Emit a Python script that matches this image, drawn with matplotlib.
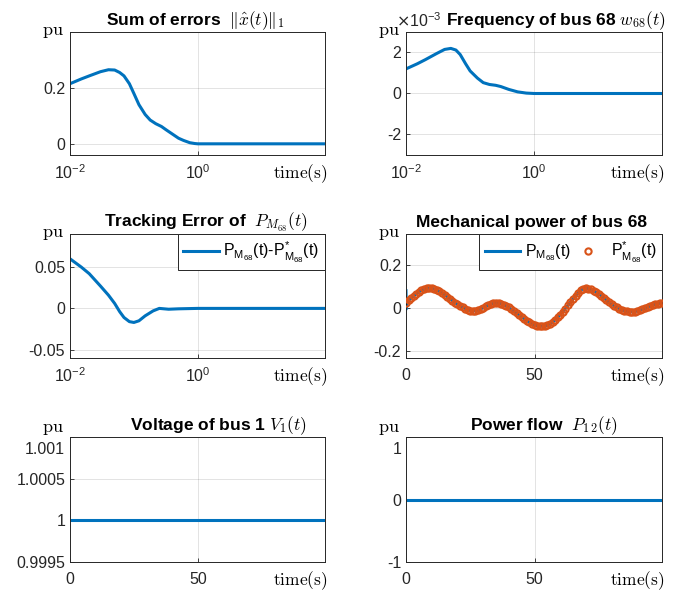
import matplotlib.pyplot as plt
from matplotlib.ticker import FixedLocator, FixedFormatter, NullLocator
from matplotlib.transforms import ScaledTranslation

plt.rcParams['font.family'] = ['Liberation Sans', 'DejaVu Sans']
plt.rcParams['axes.unicode_minus'] = False

BLUE = '#0072BD'
ORANGE = '#D95319'

# sum of errors ||x_hat(t)||_1 (log time)
err_t = [0.01, 0.015, 0.02, 0.03, 0.04, 0.05, 0.06, 0.07, 0.085, 0.1, 0.12, 0.15, 0.18,
         0.22, 0.27, 0.32, 0.4, 0.5, 0.6, 0.75, 0.9, 1.0, 2.0, 5.0, 10.0, 30.0, 98.0]
err_v = [0.215, 0.232, 0.243, 0.258, 0.265, 0.264, 0.255, 0.243, 0.215, 0.180, 0.140, 0.105, 0.085,
         0.072, 0.062, 0.050, 0.035, 0.020, 0.012, 0.004, 0.001, 0.0, 0.0, 0.0, 0.0, 0.0, 0.0]

# frequency of bus 68 (x1e-3)
freq_t = [0.01, 0.015, 0.02, 0.03, 0.04, 0.05, 0.06, 0.07, 0.085, 0.1, 0.13, 0.16, 0.2,
          0.25, 0.3, 0.4, 0.55, 0.75, 1.0, 2.0, 10.0, 98.0]
freq_v = [1.2, 1.45, 1.65, 1.95, 2.15, 2.2, 2.12, 1.9, 1.45, 1.1, 0.75, 0.53, 0.44,
          0.40, 0.34, 0.2, 0.08, 0.02, 0.0, 0.0, 0.0, 0.0]

# tracking error P_M - P_M*
trk_t = [0.01, 0.015, 0.02, 0.03, 0.04, 0.05, 0.06, 0.07, 0.085, 0.1, 0.12, 0.15, 0.2,
         0.25, 0.35, 0.5, 1.0, 10.0, 98.0]
trk_v = [0.060, 0.050, 0.042, 0.027, 0.016, 0.006, -0.004, -0.011, -0.016, -0.017, -0.015, -0.009, -0.003,
         0.0, -0.001, -0.0005, 0.0, 0.0, 0.0]

# reference mechanical power P_M*(t), one sample per second
pstar_t = list(range(0, 101))
pstar_v = [0.025, 0.035, 0.045, 0.056, 0.066, 0.075, 0.082, 0.088, 0.091, 0.092,
           0.091, 0.088, 0.083, 0.077, 0.069, 0.061, 0.052, 0.043, 0.034, 0.025,
           0.017, 0.009, 0.003, -0.003, -0.008, -0.012, -0.014, -0.013, -0.010, -0.005,
           0.001, 0.007, 0.013, 0.018, 0.021, 0.023, 0.022, 0.020, 0.015, 0.009,
           0.002, -0.006, -0.015, -0.024, -0.033, -0.042, -0.051, -0.059, -0.067, -0.074,
           -0.079, -0.083, -0.085, -0.085, -0.084, -0.080, -0.074, -0.066, -0.056, -0.044,
           -0.031, -0.017, -0.003, 0.012, 0.027, 0.042, 0.056, 0.071, 0.082, 0.090,
           0.092, 0.090, 0.086, 0.080, 0.073, 0.065, 0.056, 0.046, 0.036, 0.026,
           0.017, 0.009, 0.002, -0.004, -0.009, -0.013, -0.016, -0.018, -0.018, -0.017,
           -0.014, -0.010, -0.006, -0.001, 0.004, 0.009, 0.013, 0.017, 0.020, 0.022,
           0.023]

# actual mechanical power: short transient at the start, then follows P_M*
pm_t0 = [0.0, 0.1, 0.3, 0.6]
pm_v0 = [0.08, -0.005, 0.015, 0.03]
pm_t = pm_t0 + pstar_t[1:]
pm_v = pm_v0 + pstar_v[1:]

# voltage of bus 1 and power flow 1-2
v1_t = [0, 100]
v1_v = [1.0, 1.0]
p12_t = [0, 100]
p12_v = [0.0, 0.0]

fig = plt.figure(figsize=(6.99, 5.91), dpi=100)

lefts = [70 / 699, 406 / 699]
widths = [255 / 699, 256 / 699]
bottoms = [1 - 155 / 591, 1 - 358 / 591, 1 - 562 / 591]
heights = [123 / 591, 124 / 591, 125 / 591]


def make_axes(row, col, pu_up=0):
    ax = fig.add_axes([lefts[col], bottoms[row], widths[col], heights[row]])
    ax.tick_params(direction='in', length=3, labelsize=11.5, colors='#262626', width=0.6)
    for s in ax.spines.values():
        s.set_color('#262626')
        s.set_linewidth(0.7)
    ax.grid(True, color='#000000', alpha=0.13, linewidth=0.6)
    ax.set_axisbelow(True)
    ax.annotate(r'$\mathrm{pu}$', xy=(-0.025, 1.0), xycoords='axes fraction',
                xytext=(0, pu_up), textcoords='offset points', ha='right', va='center',
                fontsize=13, math_fontfamily='cm')
    ax.annotate(r'$\mathrm{time(s)}$', xy=(1.01, 0), xycoords='axes fraction',
                xytext=(0, -13.5), textcoords='offset points', ha='right', va='center',
                fontsize=12.5, math_fontfamily='cm')
    return ax


def log_time(ax):
    ax.set_xscale('log')
    ax.set_xlim(0.01, 98)
    ax.xaxis.set_major_locator(FixedLocator([0.01, 1]))
    ax.xaxis.set_major_formatter(FixedFormatter([r'$\mathregular{10^{-2}}$', r'$\mathregular{10^{0}}$']))
    ax.xaxis.set_minor_locator(NullLocator())
    ax.tick_params(axis='x', pad=6)


def lin_time(ax):
    ax.set_xlim(0, 99.6)
    ax.set_xticks([0, 50])
    ax.set_xticklabels(['0', '50'])
    ax.tick_params(axis='x', pad=7)


def set_title(ax, text, x):
    ax.set_title(text, fontsize=12.5, fontweight='bold', x=x, pad=5, math_fontfamily='cm')


def drop_top_label(ax):
    # top tick label sits lower, under the "pu" unit
    lbl = ax.get_yticklabels()[-1]
    lbl.set_transform(lbl.get_transform() + ScaledTranslation(0, -0.11, fig.dpi_scale_trans))


def boxed_legend(ax, **kw):
    leg = ax.legend(loc='upper right', borderaxespad=0, fancybox=False, framealpha=1,
                    edgecolor='#262626', fontsize=11.5, handlelength=2.2, handletextpad=0.3,
                    borderpad=0.35, **kw)
    leg.get_frame().set_linewidth(0.7)
    return leg


# 1. sum of errors
ax = make_axes(0, 0)
log_time(ax)
ax.plot(err_t, err_v, color=BLUE, lw=2.2)
ax.set_ylim(-0.04, 0.4)
ax.set_yticks([0, 0.2])
ax.set_yticklabels(['0', '0.2'])
set_title(ax, r'Sum of errors  $\Vert\hat{x}(t)\Vert_1$', 0.49)

# 2. frequency of bus 68
ax = make_axes(0, 1)
log_time(ax)
ax.plot(freq_t, [v * 1e-3 for v in freq_v], color=BLUE, lw=2.2)
ax.set_ylim(-3e-3, 3e-3)
ax.set_yticks([-2e-3, 0, 2e-3])
ax.set_yticklabels(['-2', '0', '2'])
ax.text(-0.04, 1.02, r'$\times\mathregular{10^{-3}}$', transform=ax.transAxes, ha='left', va='bottom',
        fontsize=11.5, color='#262626')
set_title(ax, r'Frequency of bus 68 $w_{68}(t)$', 0.585)

# 3. tracking error
ax = make_axes(1, 0)
log_time(ax)
ax.plot(trk_t, trk_v, color=BLUE, lw=2.2,
        label=r'$\mathregular{P_{M_{68}}}$(t)-$\mathregular{P^{*}_{M_{68}}}$(t)')
ax.set_ylim(-0.06, 0.09)
ax.set_yticks([-0.05, 0, 0.05])
ax.set_yticklabels(['-0.05', '0', '0.05'])
boxed_legend(ax)
set_title(ax, r'Tracking Error of  $P_{M_{68}}(t)$', 0.535)

# 4. mechanical power
ax = make_axes(1, 1)
lin_time(ax)
ax.plot(pm_t, pm_v, color=BLUE, lw=2.2, label=r'$\mathregular{P_{M_{68}}}$(t)', zorder=2)
ax.plot(pstar_t, pstar_v, ls='none', marker='o', ms=4.5, mfc='none', mec=ORANGE, mew=1.5,
        label=r'$\mathregular{P^{*}_{M_{68}}}$(t)', zorder=3)
ax.set_ylim(-0.233, 0.344)
ax.set_yticks([-0.2, 0, 0.2])
ax.set_yticklabels(['-0.2', '0', '0.2'])
boxed_legend(ax, ncol=2, columnspacing=0.0, numpoints=1)
set_title(ax, 'Mechanical power of bus 68', 0.49)

# 5. voltage of bus 1
ax = make_axes(2, 0, pu_up=6)
lin_time(ax)
ax.plot(v1_t, v1_v, color=BLUE, lw=2.2)
ax.set_ylim(0.9995, 1.001)
ax.set_yticks([0.9995, 1.0, 1.0005, 1.001])
ax.set_yticklabels(['0.9995', '1', '1.0005', '1.001'])
drop_top_label(ax)
set_title(ax, r'Voltage of bus 1 $V_1(t)$', 0.58)

# 6. power flow 1-2
ax = make_axes(2, 1, pu_up=6)
lin_time(ax)
ax.plot(p12_t, p12_v, color=BLUE, lw=2.2)
ax.set_ylim(-1, 1)
ax.set_yticks([-1, 0, 1])
ax.set_yticklabels(['-1', '0', '1'])
drop_top_label(ax)
set_title(ax, r'Power flow  $P_{1\,2}(t)$', 0.54)

fig.savefig('out.png', dpi=100)
